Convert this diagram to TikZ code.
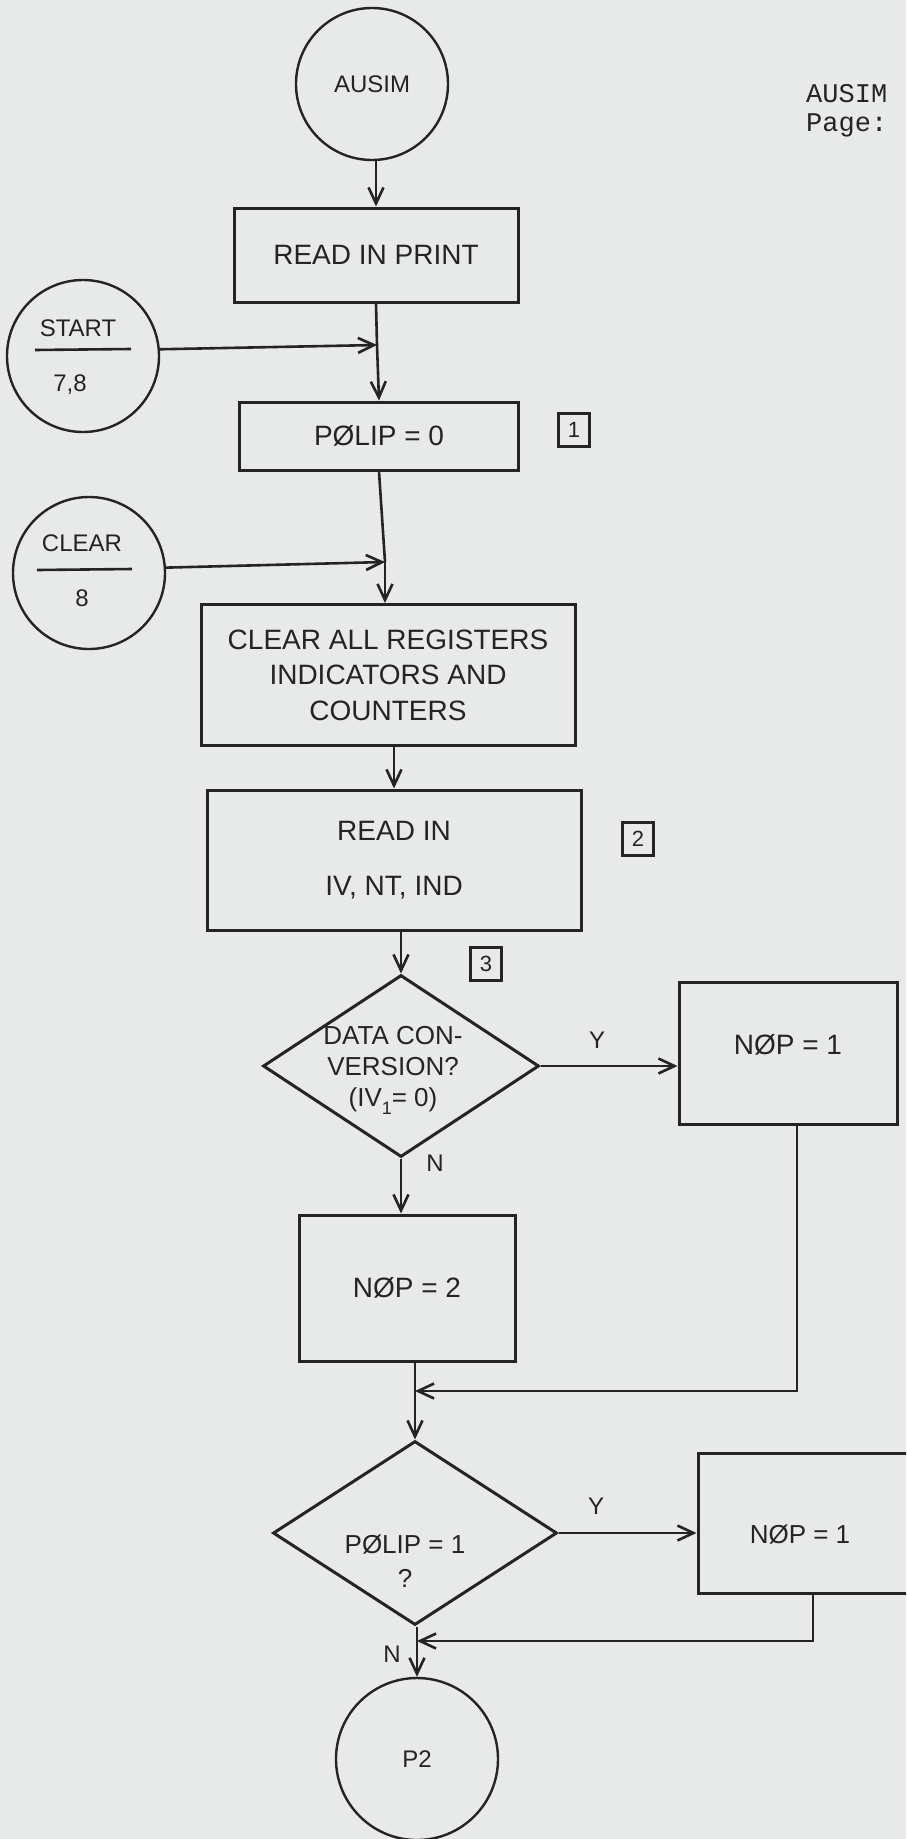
\documentclass[tikz,border=0pt]{standalone}
\usepackage{fontspec}
\setmainfont{Liberation Sans}
\newfontfamily\twfont{Liberation Mono}
\usetikzlibrary{shapes.geometric,arrows.meta}
\definecolor{bgc}{RGB}{232,233,233}
\definecolor{ink}{RGB}{36,36,36}
\begin{document}
\begin{tikzpicture}[x=1pt,y=-1pt,
  ln/.style={draw=ink, line width=2.6pt},
  arr/.style={ln, -{Straight Barb[length=16pt,width=15pt]}},
  box/.style={draw=ink, line width=3pt, rectangle, inner sep=0pt, text=ink, font=\fontsize{28}{35.5}\selectfont},
  oval/.style={draw=ink, line width=2.4pt, circle, inner sep=0pt, minimum size=152pt, text=ink, font=\fontsize{24}{28}\selectfont},
  dia/.style={draw=ink, line width=3pt, diamond, inner sep=0pt},
  lbl/.style={inner sep=0pt, text=ink, font=\fontsize{26}{31}\selectfont, align=center},
  sm/.style={inner sep=0pt, text=ink, font=\fontsize{24}{28}\selectfont},
  num/.style={draw=ink, line width=2.2pt, rectangle, inner sep=0pt, minimum width=31pt, minimum height=33pt, text=ink, font=\fontsize{22}{22}\selectfont},
  tw/.style={anchor=base west, inner sep=0pt, text=ink, font=\twfont\fontsize{27}{30}\selectfont}
]
\clip (0,0) rectangle (906,1839);
\fill[bgc] (0,0) rectangle (906,1839);

% header
\node[tw] (ttl) at (806,102) {AUSIM};
\node[tw] (pg) at (806,131) {Page:};

% start
\node[oval] (ausim) at (372,84) {AUSIM};
\node[box, minimum width=284pt, minimum height=94pt] (rip) at (376,255) {READ IN PRINT};
\draw[arr] (ausim.south -| rip.north) -- (rip.north);

% START connector
\node[oval] (start) at (83,356) {};
\node[sm] (startt) at (78,328) {START};
\node[sm] (start78) at (70,385) {7,8};
\draw[ln] (35,350) -- (131,349);
\coordinate (j1) at (377,345);
\draw[ln] (rip.south) -- (j1);
\draw[arr] (start.5) -- (j1);

\node[box, minimum width=279pt, minimum height=68pt] (p0) at (379,436) {PØLIP = 0};
\draw[arr] (j1) -- (p0.north);
\node[num] (n1) at (574,430) {1};

% CLEAR connector
\node[oval] (clear) at (89,573) {};
\node[sm] (cleart) at (82,543) {CLEAR};
\node[sm] (clear8) at (82,598) {8};
\draw[ln] (37,570) -- (132,569);
\coordinate (j2) at (385,562);
\draw[ln] (p0.south) -- (j2);
\draw[arr] (clear.4) -- (j2);

\node[box, align=center, minimum width=374pt, minimum height=141pt] (clr) at (388,675) {CLEAR ALL REGISTERS\\INDICATORS AND\\COUNTERS};
\draw[arr] (j2) -- (j2 |- clr.north);

\node[box, align=center, minimum width=374pt, minimum height=140pt, font=\fontsize{28}{55}\selectfont] (rd) at (394,860) {READ IN\\IV, NT, IND};
\draw[arr] (clr.south -| rd.north) -- (rd.north);
\node[num] (n2) at (638,839) {2};

% decision 1
\node[dia, minimum width=276pt, minimum height=182pt] (d1) at (401,1066) {};
\node[lbl] (d1t) at (393,1070) {DATA CON-\\VERSION?\\(IV\raisebox{-8pt}{\fontsize{18}{18}\selectfont 1}= 0)};
\node[num] (n3) at (486,964) {3};
\draw[arr] (rd.south -| d1.north) -- (d1.north);

\node[box, minimum width=218pt, minimum height=142pt, text height=20pt, text depth=18pt] (nop1) at (788,1053) {NØP = 1};
\draw[arr] (d1.east) -- (d1.east -| nop1.west);
\node[sm] (y1) at (597,1040) {Y};

\node[box, minimum width=216pt, minimum height=146pt] (nop2) at (407,1288) {NØP = 2};
\draw[arr] (d1.south) -- (d1.south |- nop2.north);
\node[sm] (nl1) at (435,1163) {N};

% decision 2
\node[dia, minimum width=284pt, minimum height=184pt] (d2) at (415,1533) {};
\coordinate (m1) at (415,1391);
\draw[arr] ([xshift=9pt]nop1.south) |- (m1);
\draw[arr] (nop2.south -| d2.north) -- (d2.north);
\node[lbl, font=\fontsize{26}{34}\selectfont] (d2t) at (405,1561) {PØLIP = 1\\?};

\node[box, minimum width=262pt, minimum height=140pt] (nop3) at (829,1523) {};
\node[lbl] (nop3t) at (800,1535) {NØP = 1};
\draw[arr] (d2.east) -- (d2.east -| nop3.west);
\node[sm] (y2) at (596,1506) {Y};

\node[oval, minimum size=162pt] (p2) at (417,1759) {P2};
\coordinate (m2) at (417,1641);
\draw[arr] ([xshift=-16pt]nop3.south) |- (m2);
\draw[arr] (d2.south -| p2.north) -- (p2.north);
\node[sm] (nl2) at (392,1654) {N};
\end{tikzpicture}
\end{document}
